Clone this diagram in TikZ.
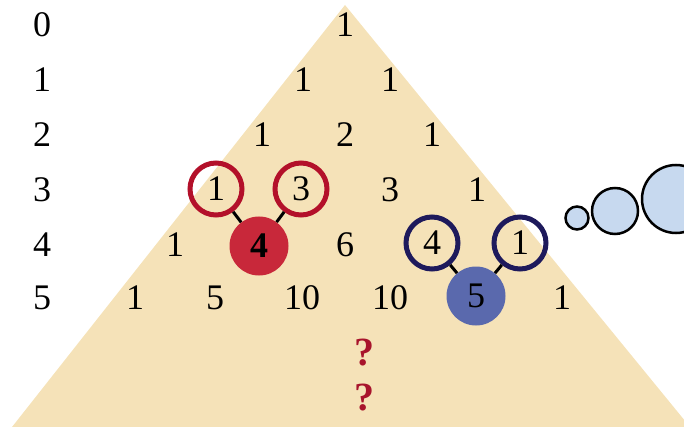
\documentclass[tikz,border=0pt]{standalone}
\usepackage{fontspec}
\setmainfont{Liberation Serif}
\definecolor{tan}{HTML}{F5E2B8}
\definecolor{ringred}{HTML}{B3102A}
\definecolor{fillred}{HTML}{C8283A}
\definecolor{ringblue}{HTML}{1E1A5C}
\definecolor{fillblue}{HTML}{5A69AD}
\definecolor{bubble}{HTML}{C7D9EF}
\definecolor{qred}{HTML}{A8142C}
\begin{document}
\begin{tikzpicture}[x=1pt,y=-1pt,
  num/.style={font=\fontsize{36}{36}\selectfont, inner sep=0pt},
  redring/.style={circle, draw=ringred, line width=5pt, minimum size=52pt, inner sep=0pt, font=\fontsize{36}{36}\selectfont},
  bluering/.style={circle, draw=ringblue, line width=5pt, minimum size=52pt, inner sep=0pt, font=\fontsize{36}{36}\selectfont},
  redfill/.style={circle, fill=fillred, minimum size=59pt, inner sep=0pt, font=\fontsize{36}{36}\selectfont\bfseries},
  bluefill/.style={circle, fill=fillblue, minimum size=59pt, inner sep=0pt, font=\fontsize{36}{36}\selectfont},
  link/.style={line width=3pt, black},
  bub/.style={circle, draw=black, line width=2.5pt, fill=bubble, inner sep=0pt},
  qmark/.style={font=\fontsize{40}{40}\selectfont\bfseries, text=qred, inner sep=0pt}]
\useasboundingbox (0,0) rectangle (684,427);
\clip (0,0) rectangle (684,427);
\fill[tan] (345,5) -- (12,427) -- (690,427) -- cycle;
% row labels
\node[num] (l0) at (42,25) {0};
\node[num] (l1) at (42,80) {1};
\node[num] (l2) at (42,135) {2};
\node[num] (l3) at (42,190) {3};
\node[num] (l4) at (42,245) {4};
\node[num] (l5) at (42,298) {5};
% row 0
\node[num] (r00) at (345,25) {1};
% row 1
\node[num] (r10) at (303,80) {1};
\node[num] (r11) at (390,80) {1};
% row 2
\node[num] (r20) at (262,135) {1};
\node[num] (r21) at (345,135) {2};
\node[num] (r22) at (432,135) {1};
% row 3
\node[redring] (r30) at (216,189) {1};
\node[redring] (r31) at (301,189) {3};
\node[num] (r32) at (390,190) {3};
\node[num] (r33) at (477,190) {1};
% row 4
\node[num] (r40) at (175,245) {1};
\node[redfill] (r41) at (259,246) {4};
\node[num] (r42) at (345,245) {6};
\node[bluering] (r43) at (432,243) {4};
\node[bluering] (r44) at (520,243) {1};
% row 5
\node[num] (r50) at (135,298) {1};
\node[num] (r51) at (215,298) {5};
\node[num] (r52) at (302,298) {10};
\node[num] (r53) at (390,298) {10};
\node[bluefill] (r54) at (476,296) {5};
\node[num] (r55) at (562,298) {1};
% connectors
\draw[link] (r30) -- (r41);
\draw[link] (r31) -- (r41);
\draw[link] (r43) -- (r54);
\draw[link] (r44) -- (r54);
% question marks
\node[qmark] (q1) at (364,353) {?};
\node[qmark] (q2) at (364,398) {?};
% thought bubbles
\node[bub, minimum size=23pt] (b1) at (577,218) {};
\node[bub, minimum size=46pt] (b2) at (615,211) {};
\node[bub, minimum size=68pt] (b3) at (676,199) {};
\end{tikzpicture}
\end{document}
